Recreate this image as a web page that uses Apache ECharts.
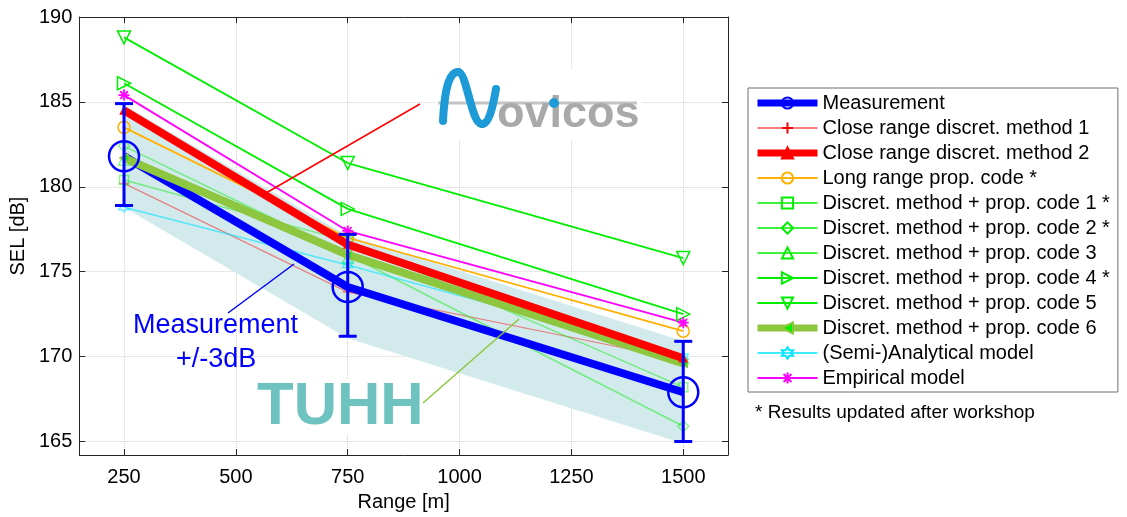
<!DOCTYPE html>
<html>
<head>
<meta charset="utf-8">
<script src="https://cdn.jsdelivr.net/npm/echarts@6/dist/echarts.min.js"></script>
<style>
html, body { margin: 0; padding: 0; background: #fff; }
#main { width: 1127px; height: 517px; }
</style>
</head>
<body>
<div id="main"></div>
<script>
// ranges and ticks
var ranges = [250, 750, 1500];
var xTicks = [250, 500, 750, 1000, 1250, 1500];

// SEL values [dB]
var measurement = [181.8, 174.1, 167.9];
var errLow = [178.9, 171.2, 165.0];
var errHigh = [184.9, 177.2, 170.9];
var bandLow = [178.8, 171.1, 164.9];
var bandHigh = [184.8, 177.1, 170.9];
var closeRange1 = [180.2, 173.8, 169.8];
var closeRange2 = [184.5, 176.6, 169.9];
var longRange = [183.5, 177.0, 171.5];
var propCode1 = [180.4, 176.8, 168.2];
var propCode2 = [182.4, 176.0, 165.9];
var propCode3 = [181.6, 175.8, 169.9];
var propCode4 = [186.1, 178.7, 172.5];
var propCode5 = [188.8, 181.4, 175.8];
var propCode6 = [181.7, 176.0, 169.6];
var semiAnalytical = [178.8, 175.4, 170.0];
var empirical = [185.4, 177.4, 172.0];

var FONT = 'Liberation Sans, Arial, sans-serif';
var GREEN = '#00EE00';
var clear = 'rgba(0,0,0,0)';

var plusIcon = 'path://M5,0 L5,10 M0,5 L10,5';
var starIcon = 'path://M5,0 L5,10 M0,5 L10,5 M1.5,1.5 L8.5,8.5 M8.5,1.5 L1.5,8.5';
var hexIcon = 'path://M5,0 L6.5,2.5 L9.5,2.5 L8,5 L9.5,7.5 L6.5,7.5 L5,10 L3.5,7.5 L0.5,7.5 L2,5 L0.5,2.5 L3.5,2.5 Z';

function pairs(values) {
    var out = [];
    for (var i = 0; i < ranges.length; i++) out.push([ranges[i], values[i]]);
    return out;
}

function makeLine(name, values, color, width, symbol, size, opts) {
    opts = opts || {};
    return {
        type: 'line',
        name: name,
        data: pairs(values),
        z: opts.z || 3,
        symbol: symbol,
        symbolSize: size,
        symbolRotate: opts.rotate || 0,
        showSymbol: true,
        lineStyle: { color: color, width: width, opacity: opts.opacity || 1 },
        itemStyle: {
            color: opts.fill || clear,
            borderColor: color,
            borderWidth: opts.border || 1.5,
            opacity: opts.opacity || 1
        },
        emphasis: { disabled: true }
    };
}

var series = [];

// light band measurement +/- 3dB
series.push({
    type: 'custom',
    name: 'band',
    z: 1,
    silent: true,
    data: ranges.map(function (x, i) { return [x, bandLow[i], bandHigh[i]]; }),
    renderItem: function (params, api) {
        var i = params.dataIndexInside;
        if (i >= params.dataInsideLength - 1) return null;
        var a = api.coord([api.value(0, i), api.value(2, i)]);
        var b = api.coord([api.value(0, i + 1), api.value(2, i + 1)]);
        var c = api.coord([api.value(0, i + 1), api.value(1, i + 1)]);
        var d = api.coord([api.value(0, i), api.value(1, i)]);
        return {
            type: 'polygon',
            shape: { points: [a, b, c, d] },
            style: { fill: '#D2EAEC', stroke: '#D2EAEC', lineWidth: 0.5 }
        };
    }
});

series.push(makeLine('Measurement', measurement, '#0000FF', 8, 'circle', 30, { z: 4, border: 2.5 }));
series.push(makeLine('Close range discret. method 1', closeRange1, '#FF0000', 1.2, plusIcon, 10, { opacity: 0.45 }));
series.push(makeLine('Close range discret. method 2', closeRange2, '#FF0000', 8, 'triangle', 7, { z: 5, fill: '#FF0000' }));
series.push(makeLine('Long range prop. code *', longRange, '#FFB000', 1.8, 'circle', 12));
series.push(makeLine('Discret. method + prop. code 1 *', propCode1, GREEN, 1.5, 'rect', 9, { opacity: 0.45 }));
series.push(makeLine('Discret. method + prop. code 2 *', propCode2, GREEN, 1.5, 'diamond', 11, { opacity: 0.45 }));
series.push(makeLine('Discret. method + prop. code 3', propCode3, GREEN, 1.5, 'triangle', 11, { opacity: 0.45 }));
series.push(makeLine('Discret. method + prop. code 4 *', propCode4, GREEN, 1.8, 'triangle', 13, { rotate: -90 }));
series.push(makeLine('Discret. method + prop. code 5', propCode5, GREEN, 1.8, 'triangle', 13, { rotate: 180 }));
series.push(makeLine('Discret. method + prop. code 6', propCode6, '#8DC63F', 8, 'triangle', 8, { rotate: 90, z: 4, fill: GREEN }));
series.push(makeLine('(Semi-)Analytical model', semiAnalytical, '#00E5FF', 1.5, hexIcon, 10, { opacity: 0.6 }));
series.push(makeLine('Empirical model', empirical, '#FF00FF', 1.8, starIcon, 11, { border: 1.8 }));

// error bars on the measurement
series.push({
    type: 'custom',
    name: 'errorbars',
    z: 6,
    silent: true,
    data: ranges.map(function (x, i) { return [x, errLow[i], errHigh[i]]; }),
    renderItem: function (params, api) {
        var lo = api.coord([api.value(0), api.value(1)]);
        var hi = api.coord([api.value(0), api.value(2)]);
        var w = 9;
        var st = { stroke: '#0000FF', lineWidth: 3 };
        return {
            type: 'group',
            children: [
                { type: 'line', shape: { x1: lo[0], y1: lo[1], x2: hi[0], y2: hi[1] }, style: st },
                { type: 'line', shape: { x1: lo[0] - w, y1: lo[1], x2: lo[0] + w, y2: lo[1] }, style: st },
                { type: 'line', shape: { x1: hi[0] - w, y1: hi[1], x2: hi[0] + w, y2: hi[1] }, style: st }
            ]
        };
    }
});

// legend entries, thick lines keep their weight in the key
var legendNames = [];
for (var k = 1; k < series.length - 1; k++) {
    var item = { name: series[k].name };
    var w = series[k].lineStyle.width;
    item.lineStyle = { opacity: 1, width: w > 5 ? 7 : w };
    item.itemStyle = { opacity: 1 };
    legendNames.push(item);
}

var axisColor = '#262626';
var gridStyle = { type: 'dotted', color: '#CFCFCF', width: 1 };

var myChart = echarts.init(document.getElementById('main'));
var option = {
    animation: false,
    textStyle: { fontFamily: FONT },
    grid: { left: 79, right: 399, top: 17, bottom: 56 },
    legend: {
        data: legendNames,
        orient: 'vertical',
        left: 748,
        top: 88,
        padding: [5, 8, 4, 6],
        itemGap: 5,
        itemWidth: 60,
        itemHeight: 14,
        selectedMode: false,
        backgroundColor: '#fff',
        borderColor: '#6E6E6E',
        borderWidth: 1,
        textStyle: { fontSize: 20, color: '#000', fontFamily: FONT, lineHeight: 20 }
    },
    xAxis: [{
        type: 'value',
        min: 150,
        max: 1600,
        name: 'Range [m]',
        nameLocation: 'middle',
        nameGap: 36,
        nameTextStyle: { fontSize: 20, color: '#000', fontFamily: FONT },
        axisLine: { onZero: false, lineStyle: { color: axisColor } },
        axisTick: { inside: true, length: 6, customValues: xTicks, lineStyle: { color: axisColor } },
        axisLabel: {
            customValues: xTicks, fontSize: 20, color: '#000', margin: 12, fontFamily: FONT,
            formatter: function (v) { return String(v); }
        },
        splitLine: { show: true, lineStyle: gridStyle }
    }, {
        type: 'value',
        position: 'top',
        min: 150,
        max: 1600,
        axisLine: { show: true, onZero: false, lineStyle: { color: axisColor } },
        axisTick: { show: true, inside: true, length: 6, customValues: xTicks, lineStyle: { color: axisColor } },
        axisLabel: { show: false },
        splitLine: { show: false }
    }],
    yAxis: [{
        type: 'value',
        min: 164.2,
        max: 190,
        name: 'SEL [dB]',
        nameLocation: 'middle',
        nameGap: 48,
        nameTextStyle: { fontSize: 20, color: '#000', fontFamily: FONT },
        axisLine: { show: true, onZero: false, lineStyle: { color: axisColor } },
        axisTick: { show: true, inside: true, length: 6, lineStyle: { color: axisColor } },
        axisLabel: {
            fontSize: 20, color: '#000', margin: 7, fontFamily: FONT,
            formatter: function (v) {
                return Math.abs(v - Math.round(v / 5) * 5) < 1e-6 ? String(Math.round(v)) : '';
            }
        },
        splitLine: { show: true, lineStyle: gridStyle }
    }, {
        type: 'value',
        position: 'right',
        min: 164.2,
        max: 190,
        axisLine: { show: true, onZero: false, lineStyle: { color: axisColor } },
        axisTick: { show: true, inside: true, length: 6, lineStyle: { color: axisColor } },
        axisLabel: { show: false },
        splitLine: { show: false }
    }],
    series: series,
    graphic: [
        // Novicos logo
        { type: 'rect', z: 100, shape: { x: 436, y: 68, width: 206, height: 72 }, style: { fill: '#fff' } },
        { type: 'line', z: 101, shape: { x1: 438, y1: 103, x2: 637, y2: 103 }, style: { stroke: '#C4C4C4', lineWidth: 3 } },
        { type: 'text', z: 102, x: 497, y: 137, style: { text: 'ovicos', font: 'bold 45px ' + FONT, fill: '#A9A9A9', verticalAlign: 'bottom' } },
        { type: 'bezierCurve', z: 103, shape: { x1: 443, y1: 121, cpx1: 445, cpy1: 82, cpx2: 451, cpy2: 72, x2: 458, y2: 72 }, style: { stroke: '#1E9BD7', lineWidth: 8, fill: null, lineCap: 'round' } },
        { type: 'bezierCurve', z: 103, shape: { x1: 458, y1: 72, cpx1: 467, cpy1: 72, cpx2: 471, cpy2: 124, x2: 482, y2: 124 }, style: { stroke: '#1E9BD7', lineWidth: 8, fill: null, lineCap: 'round' } },
        { type: 'bezierCurve', z: 103, shape: { x1: 482, y1: 124, cpx1: 490, cpy1: 124, cpx2: 494, cpy2: 100, x2: 496, y2: 89 }, style: { stroke: '#1E9BD7', lineWidth: 8, fill: null, lineCap: 'round' } },
        { type: 'circle', z: 104, shape: { cx: 554, cy: 103, r: 5 }, style: { fill: '#1E9BD7' } },
        // pointers
        { type: 'line', z: 100, shape: { x1: 266, y1: 193, x2: 420, y2: 104 }, style: { stroke: '#FF0000', lineWidth: 1.5 } },
        { type: 'line', z: 100, shape: { x1: 228, y1: 313, x2: 294, y2: 264 }, style: { stroke: '#0000FF', lineWidth: 1.5 } },
        { type: 'line', z: 100, shape: { x1: 423, y1: 403, x2: 519, y2: 319 }, style: { stroke: '#8DC63F', lineWidth: 1.5 } },
        // labels
        { type: 'text', z: 100, x: 133, y: 326, style: { text: 'Measurement', font: '27px ' + FONT, fill: '#0000FF', verticalAlign: 'middle' } },
        { type: 'text', z: 100, x: 176, y: 360, style: { text: '+/-3dB', font: '27px ' + FONT, fill: '#0000FF', verticalAlign: 'middle' } },
        { type: 'rect', z: 100, shape: { x: 255, y: 378, width: 166, height: 56 }, style: { fill: '#fff' } },
        { type: 'text', z: 101, x: 257, y: 407, style: { text: 'TUHH', font: 'bold 60px ' + FONT, fill: '#6EC3C0', verticalAlign: 'middle' } },
        { type: 'text', z: 100, x: 755, y: 413, style: { text: '* Results updated after workshop', font: '19px ' + FONT, fill: '#000', verticalAlign: 'middle' } }
    ]
};
myChart.setOption(option);
</script>
</body>
</html>
